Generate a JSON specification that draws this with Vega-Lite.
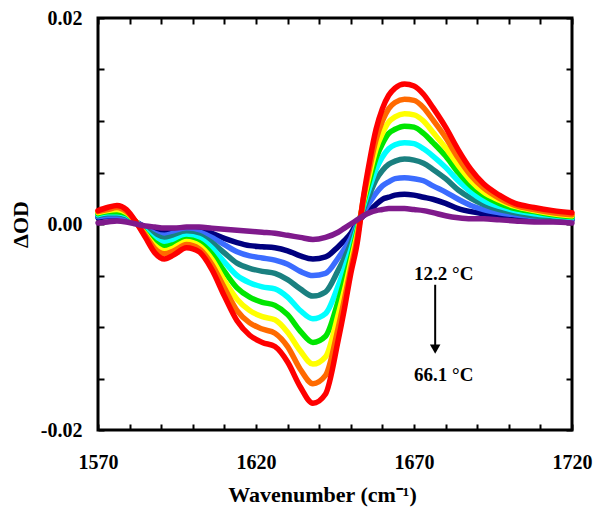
{
  "$schema": "https://vega.github.io/schema/vega-lite/v6.json",
  "width": 474,
  "height": 412,
  "autosize": "none",
  "padding": {"left": 98, "top": 18, "right": 28, "bottom": 92},
  "background": "white",
  "config": {"view": {"stroke": "black", "strokeWidth": 3}, "font": "Liberation Serif"},
  "layer": [
    {
      "data": {"values": [
        {"w":1570,"s1":0.0006,"s2":0.0007,"s3":0.0008,"s4":0.0009,"s5":0.0010,"s6":0.0011,"s7":0.0012,"s8":0.0013,"s9":0.0001},
        {"w":1573,"s1":0.0007,"s2":0.0008,"s3":0.0010,"s4":0.0011,"s5":0.0012,"s6":0.0013,"s7":0.0014,"s8":0.0016,"s9":0.0002},
        {"w":1576,"s1":0.0006,"s2":0.0008,"s3":0.0010,"s4":0.0011,"s5":0.0012,"s6":0.0014,"s7":0.0016,"s8":0.0018,"s9":0.0003},
        {"w":1579,"s1":0.0005,"s2":0.0006,"s3":0.0008,"s4":0.0009,"s5":0.0010,"s6":0.0011,"s7":0.0012,"s8":0.0014,"s9":0.0002},
        {"w":1582,"s1":0.0002,"s2":0.0002,"s3":0.0002,"s4":0.0002,"s5":0.0002,"s6":0.0002,"s7":0.0002,"s8":0.0002,"s9":0.0000},
        {"w":1585,"s1":-0.0003,"s2":-0.0004,"s3":-0.0005,"s4":-0.0007,"s5":-0.0009,"s6":-0.0010,"s7":-0.0011,"s8":-0.0013,"s9":-0.0002},
        {"w":1588,"s1":-0.0006,"s2":-0.0009,"s3":-0.0011,"s4":-0.0015,"s5":-0.0018,"s6":-0.0021,"s7":-0.0024,"s8":-0.0028,"s9":-0.0003},
        {"w":1591,"s1":-0.0008,"s2":-0.0011,"s3":-0.0014,"s4":-0.0018,"s5":-0.0022,"s6":-0.0026,"s7":-0.0029,"s8":-0.0034,"s9":-0.0004},
        {"w":1594,"s1":-0.0007,"s2":-0.0009,"s3":-0.0012,"s4":-0.0016,"s5":-0.0020,"s6":-0.0023,"s7":-0.0026,"s8":-0.0030,"s9":-0.0004},
        {"w":1598,"s1":-0.0005,"s2":-0.0007,"s3":-0.0009,"s4":-0.0012,"s5":-0.0015,"s6":-0.0017,"s7":-0.0020,"s8":-0.0023,"s9":-0.0003},
        {"w":1602,"s1":-0.0005,"s2":-0.0008,"s3":-0.0011,"s4":-0.0014,"s5":-0.0018,"s6":-0.0021,"s7":-0.0024,"s8":-0.0027,"s9":-0.0003},
        {"w":1606,"s1":-0.0009,"s2":-0.0013,"s3":-0.0018,"s4":-0.0023,"s5":-0.0029,"s6":-0.0034,"s7":-0.0039,"s8":-0.0044,"s9":-0.0004},
        {"w":1610,"s1":-0.0014,"s2":-0.0020,"s3":-0.0028,"s4":-0.0037,"s5":-0.0046,"s6":-0.0055,"s7":-0.0062,"s8":-0.0070,"s9":-0.0005},
        {"w":1614,"s1":-0.0018,"s2":-0.0027,"s3":-0.0038,"s4":-0.0050,"s5":-0.0062,"s6":-0.0073,"s7":-0.0084,"s8":-0.0094,"s9":-0.0006},
        {"w":1618,"s1":-0.0021,"s2":-0.0031,"s3":-0.0043,"s4":-0.0057,"s5":-0.0071,"s6":-0.0084,"s7":-0.0096,"s8":-0.0108,"s9":-0.0007},
        {"w":1622,"s1":-0.0022,"s2":-0.0033,"s3":-0.0046,"s4":-0.0061,"s5":-0.0076,"s6":-0.0090,"s7":-0.0102,"s8":-0.0115,"s9":-0.0008},
        {"w":1626,"s1":-0.0023,"s2":-0.0035,"s3":-0.0048,"s4":-0.0063,"s5":-0.0079,"s6":-0.0093,"s7":-0.0106,"s8":-0.0119,"s9":-0.0009},
        {"w":1630,"s1":-0.0026,"s2":-0.0039,"s3":-0.0054,"s4":-0.0071,"s5":-0.0088,"s6":-0.0105,"s7":-0.0119,"s8":-0.0134,"s9":-0.0011},
        {"w":1634,"s1":-0.0031,"s2":-0.0046,"s3":-0.0063,"s4":-0.0084,"s5":-0.0104,"s6":-0.0123,"s7":-0.0141,"s8":-0.0158,"s9":-0.0013},
        {"w":1638,"s1":-0.0034,"s2":-0.0050,"s3":-0.0070,"s4":-0.0092,"s5":-0.0115,"s6":-0.0136,"s7":-0.0155,"s8":-0.0174,"s9":-0.0015},
        {"w":1642,"s1":-0.0032,"s2":-0.0048,"s3":-0.0066,"s4":-0.0087,"s5":-0.0109,"s6":-0.0129,"s7":-0.0147,"s8":-0.0165,"s9":-0.0013},
        {"w":1646,"s1":-0.0022,"s2":-0.0033,"s3":-0.0045,"s4":-0.0060,"s5":-0.0075,"s6":-0.0088,"s7":-0.0101,"s8":-0.0113,"s9":-0.0008},
        {"w":1648,"s1":-0.0016,"s2":-0.0024,"s3":-0.0033,"s4":-0.0043,"s5":-0.0054,"s6":-0.0064,"s7":-0.0073,"s8":-0.0082,"s9":-0.0004},
        {"w":1650,"s1":-0.0009,"s2":-0.0014,"s3":-0.0019,"s4":-0.0025,"s5":-0.0032,"s6":-0.0037,"s7":-0.0043,"s8":-0.0048,"s9":0.0000},
        {"w":1652,"s1":0.0001,"s2":0.0000,"s3":-0.0002,"s4":-0.0004,"s5":-0.0007,"s6":-0.0010,"s7":-0.0014,"s8":-0.0019,"s9":0.0004},
        {"w":1654,"s1":0.0008,"s2":0.0011,"s3":0.0014,"s4":0.0017,"s5":0.0020,"s6":0.0022,"s7":0.0025,"s8":0.0026,"s9":0.0008},
        {"w":1656,"s1":0.0013,"s2":0.0021,"s3":0.0029,"s4":0.0036,"s5":0.0043,"s6":0.0049,"s7":0.0055,"s8":0.0062,"s9":0.0011},
        {"w":1658,"s1":0.0019,"s2":0.0030,"s3":0.0043,"s4":0.0053,"s5":0.0064,"s6":0.0073,"s7":0.0082,"s8":0.0092,"s9":0.0013},
        {"w":1660,"s1":0.0024,"s2":0.0037,"s3":0.0052,"s4":0.0065,"s5":0.0078,"s6":0.0088,"s7":0.0100,"s8":0.0112,"s9":0.0014},
        {"w":1662,"s1":0.0026,"s2":0.0041,"s3":0.0058,"s4":0.0073,"s5":0.0088,"s6":0.0099,"s7":0.0112,"s8":0.0125,"s9":0.0015},
        {"w":1664,"s1":0.0028,"s2":0.0044,"s3":0.0061,"s4":0.0077,"s5":0.0092,"s6":0.0104,"s7":0.0118,"s8":0.0132,"s9":0.0015},
        {"w":1667,"s1":0.0029,"s2":0.0045,"s3":0.0063,"s4":0.0079,"s5":0.0095,"s6":0.0107,"s7":0.0121,"s8":0.0136,"s9":0.0015},
        {"w":1670,"s1":0.0028,"s2":0.0044,"s3":0.0062,"s4":0.0078,"s5":0.0094,"s6":0.0106,"s7":0.0120,"s8":0.0134,"s9":0.0014},
        {"w":1673,"s1":0.0026,"s2":0.0042,"s3":0.0059,"s4":0.0073,"s5":0.0088,"s6":0.0100,"s7":0.0113,"s8":0.0126,"s9":0.0013},
        {"w":1676,"s1":0.0024,"s2":0.0037,"s3":0.0053,"s4":0.0066,"s5":0.0079,"s6":0.0089,"s7":0.0101,"s8":0.0113,"s9":0.0011},
        {"w":1680,"s1":0.0020,"s2":0.0031,"s3":0.0044,"s4":0.0055,"s5":0.0066,"s6":0.0074,"s7":0.0084,"s8":0.0094,"s9":0.0008},
        {"w":1684,"s1":0.0015,"s2":0.0024,"s3":0.0033,"s4":0.0042,"s5":0.0050,"s6":0.0057,"s7":0.0064,"s8":0.0072,"s9":0.0006},
        {"w":1688,"s1":0.0012,"s2":0.0018,"s3":0.0025,"s4":0.0031,"s5":0.0037,"s6":0.0042,"s7":0.0047,"s8":0.0053,"s9":0.0005},
        {"w":1692,"s1":0.0010,"s2":0.0014,"s3":0.0019,"s4":0.0023,"s5":0.0028,"s6":0.0031,"s7":0.0035,"s8":0.0039,"s9":0.0005},
        {"w":1697,"s1":0.0008,"s2":0.0011,"s3":0.0014,"s4":0.0017,"s5":0.0020,"s6":0.0023,"s7":0.0025,"s8":0.0028,"s9":0.0004},
        {"w":1702,"s1":0.0007,"s2":0.0009,"s3":0.0011,"s4":0.0013,"s5":0.0015,"s6":0.0017,"s7":0.0018,"s8":0.0020,"s9":0.0003},
        {"w":1708,"s1":0.0006,"s2":0.0007,"s3":0.0008,"s4":0.0010,"s5":0.0012,"s6":0.0013,"s7":0.0014,"s8":0.0016,"s9":0.0002},
        {"w":1714,"s1":0.0005,"s2":0.0005,"s3":0.0006,"s4":0.0008,"s5":0.0009,"s6":0.0010,"s7":0.0011,"s8":0.0013,"s9":0.0002},
        {"w":1720,"s1":0.0004,"s2":0.0005,"s3":0.0006,"s4":0.0006,"s5":0.0007,"s6":0.0008,"s7":0.0009,"s8":0.0011,"s9":0.0001}
      ]},
      "transform": [{"fold": ["s1","s2","s3","s4","s5","s6","s7","s8","s9"], "as": ["series","v"]}],
      "mark": {"type": "line", "strokeWidth": 5.5, "interpolate": "monotone", "strokeCap": "round", "strokeJoin": "round"},
      "encoding": {
        "x": {"field": "w", "type": "quantitative",
          "scale": {"domain": [1570, 1720], "nice": false, "zero": false},
          "axis": {"orient": "bottom", "offset": -6, "values": [1570,1580,1590,1600,1610,1620,1630,1640,1650,1660,1670,1680,1690,1700,1710,1720],
            "format": "d", "labelExpr": "(datum.value - 1570) % 50 == 0 ? datum.label : ''",
            "grid": false, "domain": false, "tickSize": 6, "tickWidth": 2, "tickColor": "black",
            "labelFont": "Liberation Serif", "labelFontSize": 20, "labelFontWeight": "bold", "labelColor": "black", "labelPadding": 22,
            "labelFlush": false, "labelOverlap": false,
            "title": "Wavenumber (cm⁻¹)", "titleFont": "Liberation Serif", "titleFontSize": 22, "titleFontWeight": "bold", "titleColor": "black", "titlePadding": 12,
            "titleX": 224, "titleAlign": "center"}},
        "y": {"field": "v", "type": "quantitative",
          "scale": {"domain": [-0.02, 0.02], "nice": false, "zero": false},
          "axis": {"orient": "left", "offset": -6, "values": [-0.02,-0.015,-0.01,-0.005,0,0.005,0.01,0.015,0.02],
            "labelExpr": "(abs(datum.value) < 0.001 || abs(datum.value) > 0.019) ? replace(format(datum.value, '.2f'), '−', '-') : ''",
            "grid": false, "domain": false, "tickSize": 6, "tickWidth": 2, "tickColor": "black",
            "labelFont": "Liberation Serif", "labelFontSize": 20, "labelFontWeight": "bold", "labelColor": "black", "labelPadding": 16,
            "labelOverlap": false,
            "title": "ΔOD", "titleFont": "Liberation Serif", "titleFontSize": 22, "titleFontWeight": "bold", "titleColor": "black", "titlePadding": 8}},
        "color": {"field": "series", "type": "nominal", "legend": null,
          "scale": {"domain": ["s1","s2","s3","s4","s5","s6","s7","s8","s9"],
            "range": ["#00007f","#3b6cff","#1a8080","#00ffff","#00e600","#ffff00","#ff6a00","#ff0000","#7f1a8c"]}}
      }
    },
    {
      "data": {"values": [{"x": 1676.7, "y1": -0.0059, "y2": -0.0118}]},
      "mark": {"type": "rule", "strokeWidth": 2, "color": "black"},
      "encoding": {
        "x": {"field": "x", "type": "quantitative",
          "scale": {"domain": [1570, 1720], "nice": false, "zero": false},
          "axis": {"orient": "top", "offset": -6, "values": [1570,1580,1590,1600,1610,1620,1630,1640,1650,1660,1670,1680,1690,1700,1710,1720],
            "labels": false, "title": null, "grid": false, "domain": false, "tickSize": 6, "tickWidth": 2, "tickColor": "black"}},
        "y": {"field": "y1", "type": "quantitative",
          "scale": {"domain": [-0.02, 0.02], "nice": false, "zero": false},
          "axis": {"orient": "right", "offset": -6, "values": [-0.02,-0.015,-0.01,-0.005,0,0.005,0.01,0.015,0.02],
            "labels": false, "title": null, "grid": false, "domain": false, "tickSize": 6, "tickWidth": 2, "tickColor": "black"}},
        "y2": {"field": "y2"}
      }
    },
    {
      "data": {"values": [{"x": 1676.7, "y": -0.01215}]},
      "mark": {"type": "point", "shape": "triangle-down", "filled": true, "color": "black", "size": 110, "opacity": 1},
      "encoding": {
        "x": {"field": "x", "type": "quantitative", "axis": null},
        "y": {"field": "y", "type": "quantitative", "axis": null}
      }
    },
    {
      "data": {"values": [
        {"x": 1679.4, "y": -0.00482, "t": "12.2 °C"},
        {"x": 1679.4, "y": -0.01463, "t": "66.1 °C"}
      ]},
      "mark": {"type": "text", "font": "Liberation Serif", "fontSize": 19, "fontWeight": "bold", "color": "black", "align": "center", "baseline": "middle"},
      "encoding": {
        "x": {"field": "x", "type": "quantitative", "axis": null},
        "y": {"field": "y", "type": "quantitative", "axis": null},
        "text": {"field": "t"}
      }
    }
  ],
  "resolve": {"axis": {"x": "independent", "y": "independent"}}
}
